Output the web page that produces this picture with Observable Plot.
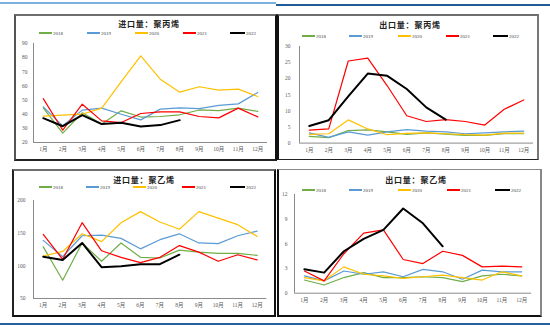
<!DOCTYPE html>
<html><head><meta charset="utf-8">
<script src="https://cdn.jsdelivr.net/npm/d3@7"></script>
<script src="https://cdn.jsdelivr.net/npm/@observablehq/plot@0.6"></script>
<style>
body{margin:0;background:#fff;}
#root{position:relative;width:550px;height:327px;overflow:hidden;background:#fff;font-family:"Liberation Serif","Noto Sans CJK SC",serif;}
.panel{position:absolute;box-sizing:border-box;}
.title{position:absolute;font-family:"Noto Sans CJK SC",sans-serif;font-weight:700;font-size:8px;transform:translate(-50%,-50%);white-space:nowrap;letter-spacing:0.8px;color:#222;}
.lgl{position:absolute;}
.lgt{position:absolute;font-size:5px;color:#404040;transform:translateY(-50%);line-height:1;}
.hl{position:absolute;}
svg{position:absolute;overflow:visible;}
</style></head><body><div id="root"></div>
<script>
// ---------- data ----------
const months = ["1月","2月","3月","4月","5月","6月","7月","8月","9月","10月","11月","12月"];
const years = ["2018","2019","2020","2021","2022"];
const yearColors = ["#70AD47","#5B9BD5","#FFC000","#FF0000","#000000"];

// 进口量：聚丙烯
const ppImport2018 = [44.5, 26.6, 41, 33, 42.4, 38, 38.4, 39.6, 43, 42.6, 44.3, 42];
const ppImport2019 = [45.2, 31.8, 42.9, 44.3, 40, 36, 43.6, 44.5, 44, 46.2, 47.3, 55.4];
const ppImport2020 = [38.6, 39.3, 40, 44.3, 63, 81.3, 64.8, 55.6, 59.4, 57, 57.7, 52.5];
const ppImport2021 = [51, 28.7, 47.1, 35.3, 34.1, 40.5, 41.7, 41.7, 38.4, 37.4, 44.3, 38.1];
const ppImport2022 = [37.2, 31.5, 39.3, 33, 33.9, 31.3, 32.3, 35.8];
const ppImportTicks = [20, 30, 40, 50, 60, 70, 80, 90];

// 出口量：聚丙烯
const ppExport2018 = [2.1, 1.7, 3.9, 4.1, 3.5, 2.7, 3.2, 2.8, 2.4, 2.4, 2.9, 2.9];
const ppExport2019 = [3.2, 1.8, 3.5, 2.5, 3.5, 4.2, 3.7, 3.5, 2.9, 3.2, 3.5, 3.7];
const ppExport2020 = [2.7, 2.9, 7.2, 4.4, 2.6, 3.0, 3.2, 2.9, 2.6, 2.5, 3.1, 3.1];
const ppExport2021 = [4.0, 4.4, 25.5, 26.4, 17.8, 8.5, 6.7, 7.3, 6.7, 5.6, 10.5, 13.4];
const ppExport2022 = [5.3, 7.1, 14.5, 21.6, 20.9, 16.8, 11.1, 7.3];
const ppExportTicks = [0, 5, 10, 15, 20, 25, 30];

// 进口量：聚乙烯
const peImport2018 = [129, 78, 135, 107, 135, 113, 112, 124, 121, 119, 119, 116];
const peImport2019 = [139, 114, 146, 147, 142, 126, 140, 149, 135, 134, 146, 153];
const peImport2020 = [115, 122, 149, 137, 166, 183, 167, 156, 183, 173, 163, 145];
const peImport2021 = [148, 110, 166, 123, 113, 105, 113, 131, 121, 107, 117, 109];
const peImport2022 = [114, 109, 135, 98, 99.5, 102.5, 102.5, 117];
const peImportTicks = [50, 100, 150, 200];

// 出口量：聚乙烯
const peExport2018 = [1.6, 1.0, 1.9, 2.5, 1.9, 1.9, 2.0, 1.9, 1.4, 2.1, 2.3, 2.1];
const peExport2019 = [2.1, 1.5, 2.7, 2.3, 2.6, 2.0, 2.9, 2.6, 1.7, 2.8, 2.6, 2.6];
const peExport2020 = [1.9, 1.5, 3.2, 2.3, 2.1, 1.8, 2.0, 2.2, 1.9, 1.6, 2.6, 2.1];
const peExport2021 = [2.7, 1.5, 4.8, 7.3, 7.7, 4.1, 3.6, 5.1, 4.6, 3.2, 3.3, 3.2];
const peExport2022 = [2.9, 2.5, 5.1, 6.6, 7.7, 10.3, 8.5, 5.7];
const peExportTicks = [0, 3, 6, 9, 12];

// ---------- layout ----------
const root = document.getElementById("root");
function el(cls, css, text) {
  const d = document.createElement("div");
  d.className = cls;
  Object.assign(d.style, css);
  if (text != null) d.textContent = text;
  root.appendChild(d);
  return d;
}
// separator lines
el("hl", {left:"0px", top:"2px", width:"276px", height:"1.5px", background:"#7eb0dd"});
el("hl", {left:"276px", top:"4px", width:"274px", height:"1.5px", background:"#1f5a96"});
el("hl", {left:"0px", top:"323px", width:"550px", height:"2px", background:"#2660a0"});

const charts = [
  {title:"进口量：聚丙烯", series:[ppImport2018,ppImport2019,ppImport2020,ppImport2021,ppImport2022], ticks:ppImportTicks,
   panel:{left:14,top:14,width:263,height:147,bl:"2px solid #555",bt:"2px solid #6e6e6e",br:"2px solid #111",bb:"2px solid #222"},
   plot:{x0:33,x1:267,y0:43,y1:142}, titleX:149, titleY:23, legY:33, legX:[39,87,135,183,230], yPad:6, xPad:4},
  {title:"出口量：聚丙烯", series:[ppExport2018,ppExport2019,ppExport2020,ppExport2021,ppExport2022], ticks:ppExportTicks,
   panel:{left:277,top:14,width:262,height:146,bl:"2px solid #111",bt:"2px solid #6e6e6e",br:"2px solid #777",bb:"1.5px solid #222"},
   plot:{x0:299,x1:533,y0:45.7,y1:142.3}, titleX:410, titleY:24, legY:36, legX:[302,349,398,446,493], yPad:9, xPad:4.5},
  {title:"进口量：聚乙烯", series:[peImport2018,peImport2019,peImport2020,peImport2021,peImport2022], ticks:peImportTicks,
   panel:{left:12,top:169,width:264,height:148,bl:"2px solid #222",bt:"2px solid #6e6e6e",br:"2px solid #111",bb:"2px solid #111"},
   plot:{x0:33,x1:266.4,y0:199.7,y1:297.7}, titleX:144, titleY:178.5, legY:187, legX:[39,86,133,182,230], yPad:8, xPad:4},
  {title:"出口量：聚乙烯", series:[peExport2018,peExport2019,peExport2020,peExport2021,peExport2022], ticks:peExportTicks,
   panel:{left:277,top:169,width:265,height:148,bl:"2px solid #111",bt:"1px solid #888",br:"2px solid #888",bb:"2px solid #111"},
   plot:{x0:294.4,x1:531.5,y0:194.3,y1:293}, titleX:416, titleY:178.5, legY:190, legX:[302,349,398,447,495], yPad:7, xPad:4}
];

for (const c of charts) {
  const p = c.panel;
  el("panel", {left:p.left+"px", top:p.top+"px", width:p.width+"px", height:p.height+"px",
    borderLeft:p.bl, borderTop:p.bt, borderRight:p.br, borderBottom:p.bb});
  el("title", {left:c.titleX+"px", top:c.titleY+"px"}, c.title);
  years.forEach((yr, i) => {
    const x = c.legX[i];
    const len = i === 4 ? 15 : 13;
    const w = i === 4 ? 2 : 1.3;
    el("lgl", {left:x+"px", top:(c.legY - w/2)+"px", width:len+"px", height:w+"px", background:yearColors[i]});
    el("lgt", {left:(x+len+1)+"px", top:c.legY+"px"}, yr);
  });

  const ymin = c.ticks[0], ymax = c.ticks[c.ticks.length-1];
  const mL = 24, mR = 8, mT = 8, mB = 14;
  const pl = c.plot;
  const W = (pl.x1 - pl.x0) + mL + mR;
  const H = (pl.y1 - pl.y0) + mT + mB;
  const rows = [];
  c.series.forEach((arr, si) => arr.forEach((v, i) => rows.push({year: years[si], m: i+1, v})));
  const monthIdx = d3.range(1, 13);
  const marks = [
    Plot.ruleX([0.5], {y1: ymin, y2: ymax, stroke:"#8a8a8a", strokeWidth:1}),
    Plot.ruleY([ymin], {x1: 0.5, x2: 12.5, stroke:"#8a8a8a", strokeWidth:1}),
    Plot.text(c.ticks, {x: 0.5, y: d => d, text: d => String(d), textAnchor:"end", dx: -c.yPad, fontSize:5.5, fill:"#595959"}),
    Plot.text(monthIdx, {x: d => d, y: ymin, text: d => months[d-1], dy: c.xPad + 3, fontSize:5.5, fill:"#595959"})
  ];
  years.forEach((yr, si) => {
    marks.push(Plot.line(rows.filter(r => r.year === yr), {x:"m", y:"v", stroke: yearColors[si],
      strokeWidth: si === 4 ? 2 : 1.2, strokeLinejoin:"round", strokeLinecap:"round"}));
  });
  const svg = Plot.plot({
    width: W, height: H, marginLeft: mL, marginRight: mR, marginTop: mT, marginBottom: mB,
    x: {type:"linear", domain:[0.5, 12.5], axis:null},
    y: {type:"linear", domain:[ymin, ymax], axis:null},
    style: {background:"transparent", fontFamily:'"Liberation Serif","Noto Sans CJK SC",serif'},
    marks
  });
  svg.style.left = (pl.x0 - mL) + "px";
  svg.style.top = (pl.y0 - mT) + "px";
  root.appendChild(svg);
}
</script></body></html>
